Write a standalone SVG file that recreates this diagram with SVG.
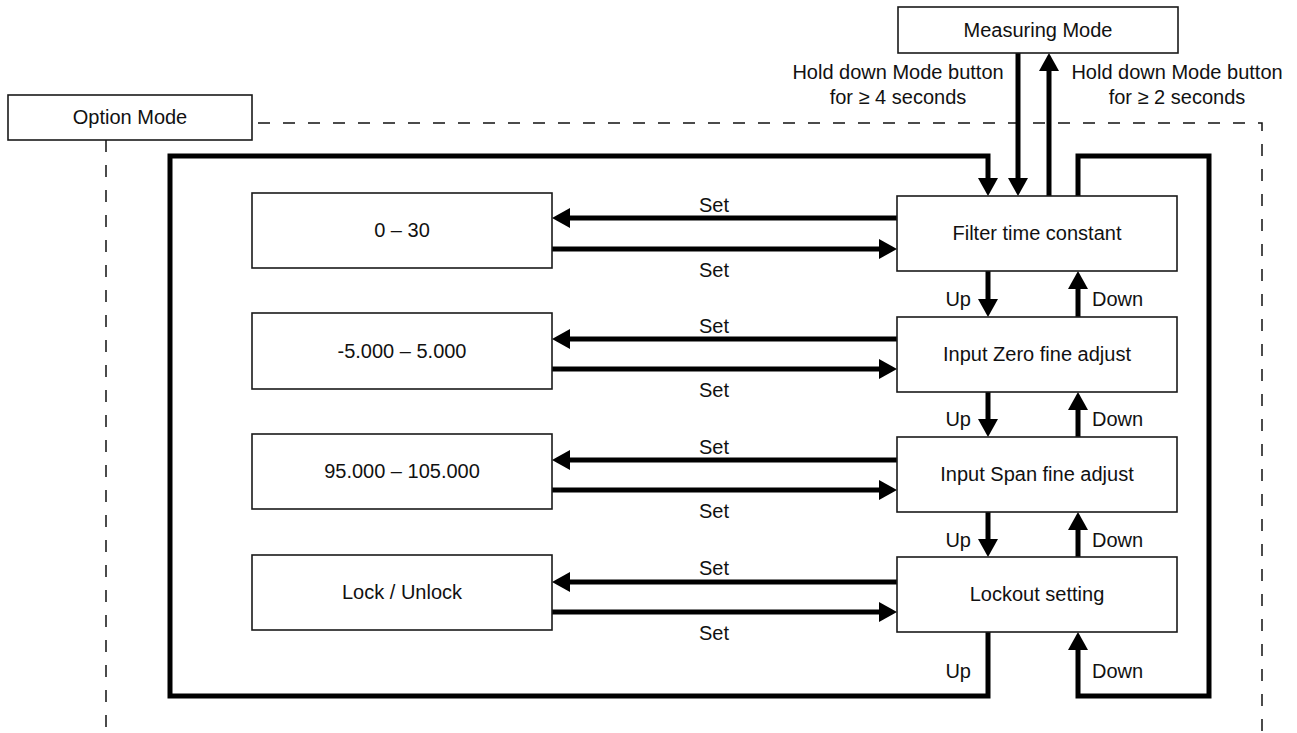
<svg xmlns="http://www.w3.org/2000/svg" width="1297" height="733" viewBox="0 0 1297 733">
<style>
.box{fill:#fff;stroke:#1a1a1a;stroke-width:1.6}
.t{font-family:"Liberation Sans",Arial,Helvetica,sans-serif;font-size:20px;fill:#111}
.m{text-anchor:middle}
.e{text-anchor:end}
.thick{fill:none;stroke:#000;stroke-width:5;stroke-linejoin:miter;stroke-linecap:butt}
.arr{marker-end:url(#ah)}
.dash{fill:none;stroke:#111;stroke-width:1.5;stroke-dasharray:12 13}
</style>
<defs>
<marker id="ah" markerUnits="userSpaceOnUse" viewBox="0 -10 18 20" markerWidth="18" markerHeight="20" refX="1" refY="0" orient="auto" overflow="visible">
<path d="M0,-10 L18,0 L0,10 z" fill="#000"/>
</marker>
</defs>
<rect width="1297" height="733" fill="#fff"/>
<g id="connectors">
<path class="dash" d="M258,123 L1262,123 L1262,733"/>
<path class="dash" d="M106,140 L106,733"/>
<path class="thick arr" d="M1018,53 L1018,179"/>
<path class="thick arr" d="M1049,196 L1049,70"/>
<path class="thick arr" d="M988,632 L988,696 L170,696 L170,156 L988,156 L988,179"/>
<path class="thick arr" d="M1078,196 L1078,156 L1209,156 L1209,696 L1078,696 L1078,649"/>
<path class="thick arr" d="M897,218 L569,218"/>
<path class="thick arr" d="M552,249 L880,249"/>
<path class="thick arr" d="M897,339 L569,339"/>
<path class="thick arr" d="M552,369 L880,369"/>
<path class="thick arr" d="M897,460 L569,460"/>
<path class="thick arr" d="M552,490 L880,490"/>
<path class="thick arr" d="M897,582 L569,582"/>
<path class="thick arr" d="M552,612 L880,612"/>
<path class="thick arr" d="M988,271 L988,300"/>
<path class="thick arr" d="M988,392 L988,420"/>
<path class="thick arr" d="M988,512 L988,540"/>
<path class="thick arr" d="M1078,317 L1078,288"/>
<path class="thick arr" d="M1078,437 L1078,409"/>
<path class="thick arr" d="M1078,557 L1078,529"/>
<g class="t">
<text class="m" x="898" y="79">Hold down Mode button</text>
<text class="m" x="898" y="104">for ≥ 4 seconds</text>
<text class="m" x="1177" y="79">Hold down Mode button</text>
<text class="m" x="1177" y="104">for ≥ 2 seconds</text>
<text class="m" x="714" y="212">Set</text>
<text class="m" x="714" y="277">Set</text>
<text class="m" x="714" y="333">Set</text>
<text class="m" x="714" y="397">Set</text>
<text class="m" x="714" y="454">Set</text>
<text class="m" x="714" y="518">Set</text>
<text class="m" x="714" y="575">Set</text>
<text class="m" x="714" y="640">Set</text>
<text class="e" x="971" y="306">Up</text>
<text class="e" x="971" y="426">Up</text>
<text class="e" x="971" y="547">Up</text>
<text class="e" x="971" y="678">Up</text>
<text x="1092" y="306">Down</text>
<text x="1092" y="426">Down</text>
<text x="1092" y="547">Down</text>
<text x="1092" y="678">Down</text>
</g>
</g>
<g id="measuring-mode"><rect class="box" x="898" y="7" width="280" height="46"/><text class="t m" x="1038" y="37">Measuring Mode</text></g>
<g id="option-mode"><rect class="box" x="8" y="95" width="244" height="45"/><text class="t m" x="130" y="124">Option Mode</text></g>
<g id="filter-time-constant"><rect class="box" x="897" y="196" width="280" height="75"/><text class="t m" x="1037" y="240">Filter time constant</text></g>
<g id="input-zero"><rect class="box" x="897" y="317" width="280" height="75"/><text class="t m" x="1037" y="361">Input Zero fine adjust</text></g>
<g id="input-span"><rect class="box" x="897" y="437" width="280" height="75"/><text class="t m" x="1037" y="481">Input Span fine adjust</text></g>
<g id="lockout-setting"><rect class="box" x="897" y="557" width="280" height="75"/><text class="t m" x="1037" y="601">Lockout setting</text></g>
<g id="range-0-30"><rect class="box" x="252" y="193" width="300" height="75"/><text class="t m" x="402" y="237">0 – 30</text></g>
<g id="range-zero"><rect class="box" x="252" y="313" width="300" height="76"/><text class="t m" x="402" y="358">-5.000 – 5.000</text></g>
<g id="range-span"><rect class="box" x="252" y="434" width="300" height="75"/><text class="t m" x="402" y="478">95.000 – 105.000</text></g>
<g id="lock-unlock"><rect class="box" x="252" y="555" width="300" height="75"/><text class="t m" x="402" y="599">Lock / Unlock</text></g>
</svg>
